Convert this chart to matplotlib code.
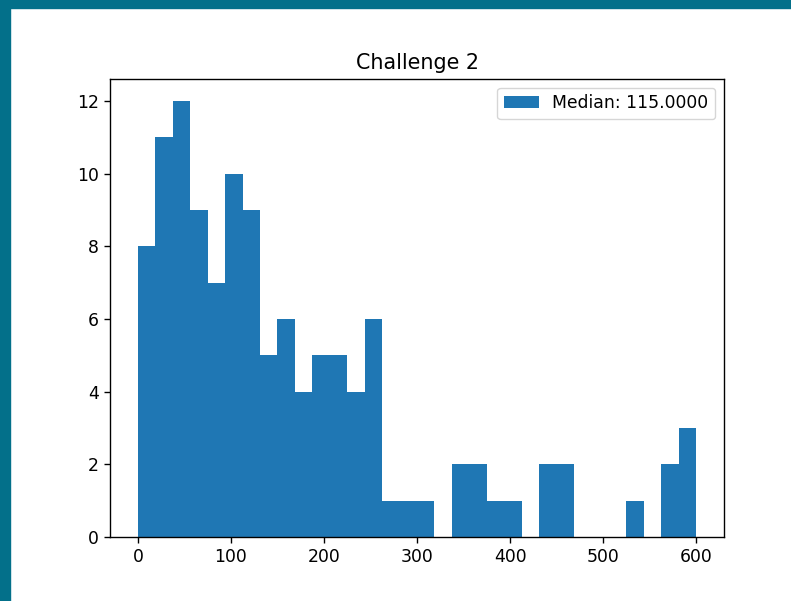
import matplotlib
matplotlib.use("Agg")
import matplotlib.pyplot as plt
from matplotlib.patches import Rectangle
import numpy as np

# histogram: 32 bins between 0 and 600
bin_edges = np.linspace(0, 600, 33)
counts = [8, 11, 12, 9, 7, 10, 9, 5, 6, 4, 5, 5, 4, 6, 1, 1,
          1, 0, 2, 2, 1, 1, 0, 2, 2, 0, 0, 0, 1, 0, 2, 3]
median_value = 115.0

s = 1.24  # the screenshot is a scaled-up default figure
plt.rcParams['font.size'] = 10 * s
plt.rcParams['axes.linewidth'] = 0.8 * s
plt.rcParams['xtick.major.width'] = 0.8 * s
plt.rcParams['ytick.major.width'] = 0.8 * s
plt.rcParams['xtick.major.size'] = 3.5 * s
plt.rcParams['ytick.major.size'] = 3.5 * s

fig = plt.figure(figsize=(7.91, 6.01), dpi=100)
# teal slide frame at top and left
fig.patches.append(Rectangle((0, 1 - 8 / 601), 1, 8 / 601, transform=fig.transFigure,
                             color='#03708a', zorder=0))
fig.patches.append(Rectangle((0, 0), 10 / 791, 1, transform=fig.transFigure,
                             color='#03708a', zorder=0))

ax = fig.add_axes([110 / 791, 1 - 537 / 601, 614 / 791, 458 / 601])
ax.hist(bin_edges[:-1], bins=bin_edges, weights=counts, color='#1f77b4',
        label='Median: %.4f' % median_value)
ax.set_title('Challenge 2', pad=6 * s)
ax.legend(loc='upper right')

fig.savefig('out.png', dpi=100)
